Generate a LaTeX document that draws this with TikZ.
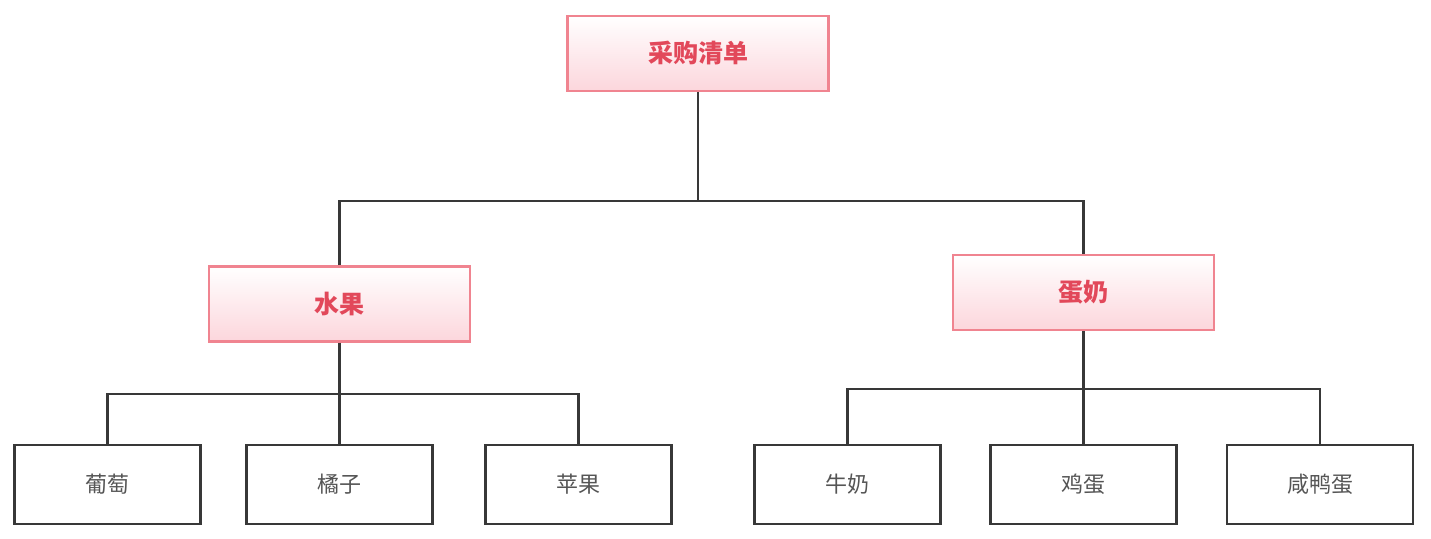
\documentclass[tikz,border=0pt]{standalone}
\usepackage{fontspec}
\setmainfont{Noto Sans CJK SC}
\usepackage{tikz}
\definecolor{pinkline}{HTML}{F08490}
\definecolor{pinkfill}{HTML}{FCD6DC}
\definecolor{redtext}{HTML}{E2485A}
\definecolor{darkline}{HTML}{383838}
\definecolor{graytext}{HTML}{555555}

\begin{document}
\begin{tikzpicture}[x=0.5pt, y=-0.5pt,
    catbox/.style={rectangle, draw=pinkline, line width=1.1pt, top color=white, bottom color=pinkfill,
        minimum width=130.5pt, minimum height=37.5pt, font=\fontsize{12.5}{14}\selectfont\bfseries, text=redtext},
    itembox/.style={rectangle, draw=darkline, line width=1.3pt, fill=white,
        minimum width=93pt, minimum height=39.5pt, font=\fontsize{11}{13}\selectfont, text=graytext},
    link/.style={draw=darkline, line width=1.3pt}]
            \useasboundingbox (0,0) rectangle (1431,539);

            \node[catbox] (list) at (698, 53.5) {采购清单};
            \node[catbox] (fruit) at (339.5, 304) {水果};
            \node[catbox] (dairy) at (1083.5, 292.5) {蛋奶};

            \foreach \name/\x/\txt in {grape/107.5/葡萄, orange/339.5/橘子, apple/578.5/苹果} {
                \node[itembox] (\name) at (\x, 484.5) {\txt};
            }
            \foreach \name/\x/\txt in {milk/847.5/牛奶, egg/1083.5/鸡蛋, duckegg/1320/咸鸭蛋} {
                \node[itembox] (\name) at (\x, 484.5) {\txt};
            }

            \coordinate (bus0) at (698, 201);
            \coordinate (bus1) at (339.5, 394);
            \coordinate (bus2) at (1083.5, 389);

            \draw[link] (list) -- (bus0);
            \draw[link] (fruit.north) |- (bus0);
            \draw[link] (dairy.north) |- (bus0);

            \draw[link] (fruit) -- (bus1);
            \draw[link] (grape.north) |- (bus1);
            \draw[link] (orange.north) |- (bus1);
            \draw[link] (apple.north) |- (bus1);

            \draw[link] (dairy) -- (bus2);
            \draw[link] (milk.north) |- (bus2);
            \draw[link] (egg.north) |- (bus2);
            \draw[link] (duckegg.north) |- (bus2);
\end{tikzpicture}
\end{document}
